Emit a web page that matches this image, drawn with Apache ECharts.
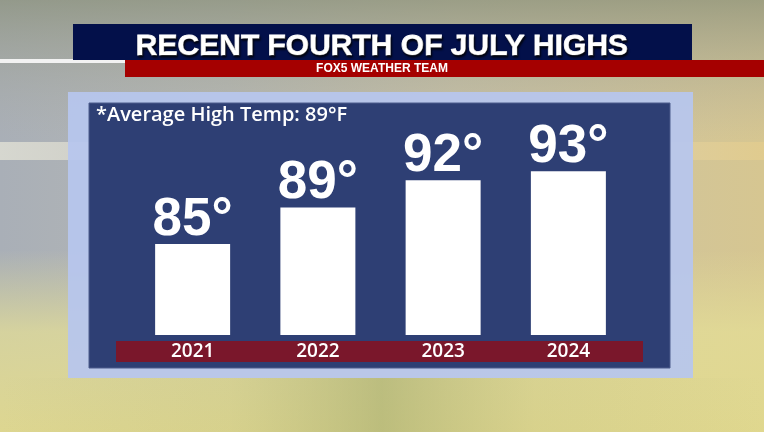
<!DOCTYPE html>
<html>
<head>
<meta charset="utf-8">
<script src="https://cdn.jsdelivr.net/npm/echarts@6/dist/echarts.min.js"></script>
<style>
html,body{margin:0;padding:0;background:#c8c4a8;}
#chart{width:764px;height:432px;}
</style>
</head>
<body>
<div id="chart"></div>
<script>
const titleText = 'RECENT FOURTH OF JULY HIGHS';
const subText = 'FOX5 WEATHER TEAM';
const noteText = '*Average High Temp: 89°F';
const years = ['2021', '2022', '2023', '2024'];
const highs = [85, 89, 92, 93];

const chart = echarts.init(document.getElementById('chart'));

const LG = (x1, y1, x2, y2, stops) => new echarts.graphic.LinearGradient(x1, y1, x2, y2, stops);

const bgElements = [
  { type: 'rect', shape: { x: 0, y: 0, width: 764, height: 432 }, z: -100,
    style: { fill: LG(0, 0, 1, 0, [
      { offset: 0, color: '#a9afb7' }, { offset: 0.3, color: '#b6b8b4' },
      { offset: 0.6, color: '#c9c2a6' }, { offset: 1, color: '#d6c691' }]) } },
  { type: 'rect', shape: { x: 0, y: 0, width: 764, height: 140 }, z: -99,
    style: { fill: LG(0, 0, 0, 1, [
      { offset: 0, color: 'rgba(140,146,124,0.75)' }, { offset: 0.6, color: 'rgba(160,162,148,0.3)' },
      { offset: 1, color: 'rgba(170,170,160,0)' }]) } },
  { type: 'rect', shape: { x: 0, y: 250, width: 764, height: 182 }, z: -98,
    style: { fill: LG(0, 0, 0, 1, [
      { offset: 0, color: 'rgba(228,222,150,0)' }, { offset: 0.45, color: 'rgba(228,222,150,0.75)' },
      { offset: 1, color: 'rgba(224,216,142,0.95)' }]) } },
  { type: 'rect', shape: { x: 0, y: 378, width: 764, height: 54 }, z: -97,
    style: { fill: LG(0, 0, 1, 0, [
      { offset: 0, color: 'rgba(170,175,120,0)' }, { offset: 0.3, color: 'rgba(175,178,120,0.15)' },
      { offset: 0.5, color: 'rgba(160,168,108,0.55)' }, { offset: 0.7, color: 'rgba(175,178,120,0.15)' },
      { offset: 1, color: 'rgba(170,175,120,0)' }]) } },
  { type: 'rect', shape: { x: 0, y: 142, width: 764, height: 18 }, z: -96,
    style: { fill: LG(0, 0, 1, 0, [
      { offset: 0, color: 'rgba(222,222,212,0.85)' }, { offset: 0.5, color: 'rgba(225,220,200,0.3)' },
      { offset: 1, color: 'rgba(226,204,142,0.85)' }]) } },
  { type: 'rect', shape: { x: 0, y: 59, width: 126, height: 4 }, z: -90,
    style: { fill: '#f2f2f2' } },
  { type: 'rect', shape: { x: 73, y: 24, width: 619, height: 36 }, z: -80, style: { fill: '#03104a' } },
  { type: 'rect', shape: { x: 125, y: 60, width: 639, height: 17 }, z: -80, style: { fill: '#a50000' } },
  { type: 'rect', shape: { x: 68, y: 92, width: 625, height: 286 }, z: -70, style: { fill: 'rgba(183,198,238,0.93)' } },
  { type: 'rect', shape: { x: 89, y: 103, width: 581, height: 265 }, z: -60, style: { fill: '#2e3f74', stroke: '#4c5c8c', lineWidth: 1 } },
  { type: 'rect', shape: { x: 116, y: 341, width: 527, height: 21 }, z: -50, style: { fill: '#7a172b' } },
  { type: 'text', x: 382, y: 69, z: 50,
    style: { text: subText, fill: '#ffffff', font: 'bold 12px "Liberation Sans", Arial, sans-serif', align: 'center', verticalAlign: 'middle' } },
  { type: 'text', x: 96, y: 105, z: 50,
    style: { text: noteText, fill: '#ffffff', font: '600 20px "Open Sans", "Liberation Sans", sans-serif', align: 'left', verticalAlign: 'top' } }
];

const option = {
  animation: false,
  backgroundColor: 'transparent',
  title: {
    text: titleText,
    left: 'center',
    top: 23,
    textStyle: {
      color: '#ffffff',
      fontFamily: '"Liberation Sans", Arial, sans-serif',
      fontWeight: 'bold',
      fontSize: 30,
      lineHeight: 38,
      textBorderColor: '#ffffff',
      textBorderWidth: 0.8,
      textShadowColor: 'rgba(0,0,0,0.8)',
      textShadowBlur: 2,
      textShadowOffsetX: 1,
      textShadowOffsetY: 2
    }
  },
  graphic: { elements: bgElements },
  grid: { left: 130, right: 133, top: 153, bottom: 97, containLabel: false },
  xAxis: {
    type: 'category',
    data: years,
    z: 10,
    axisLine: { show: false },
    axisTick: { show: false },
    splitLine: { show: false },
    axisLabel: {
      color: '#ffffff',
      fontFamily: '"Open Sans", "Liberation Sans", sans-serif',
      fontWeight: 600,
      fontSize: 19,
      lineHeight: 22,
      margin: 6
    }
  },
  yAxis: {
    type: 'value',
    min: 75,
    max: 95,
    show: false,
    splitLine: { show: false }
  },
  series: [{
    type: 'bar',
    data: highs,
    barWidth: 75,
    itemStyle: { color: '#ffffff' },
    label: {
      show: true,
      position: 'top',
      distance: -2,
      formatter: '{c}°',
      color: '#ffffff',
      fontFamily: '"Liberation Sans", Arial, sans-serif',
      fontWeight: 'bold',
      fontSize: 53,
      lineHeight: 52
    }
  }]
};
chart.setOption(option);
</script>
</body>
</html>
